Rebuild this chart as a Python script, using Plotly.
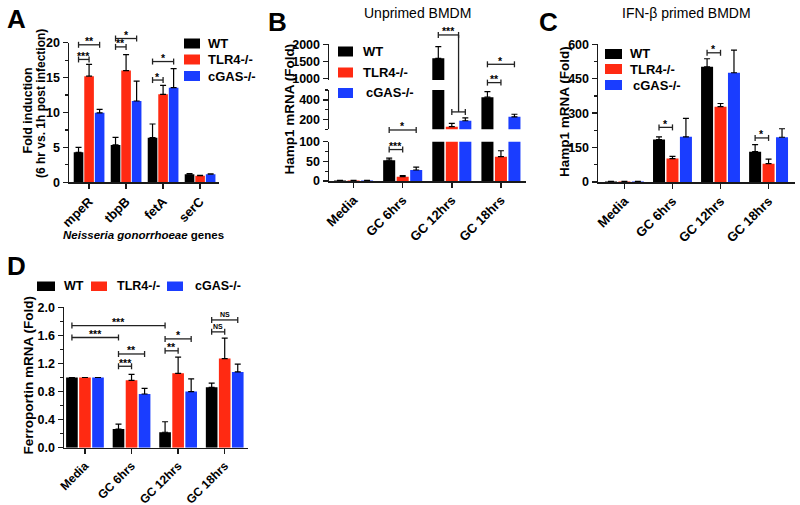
import plotly.graph_objects as go

W, H = 800, 505
FONT = "Liberation Sans, Arial, Helvetica, sans-serif"
BLACK, RED, BLUE = "#000000", "#FF2A12", "#1A3DFF"
COLORS = [BLACK, RED, BLUE]
SERIES = ["WT", "TLR4-/-", "cGAS-/-"]
AXC = "#1a1a1a"

# ---------------- data ----------------
genes = ["mpeR", "tbpB", "fetA", "serC"]
a_wt = [4.3, 5.35, 6.4, 1.15]
a_wt_err = [0.7, 1.1, 1.95, 0.1]
a_tlr4 = [15.2, 16.0, 12.6, 0.95]
a_tlr4_err = [1.7, 2.3, 1.3, 0.05]
a_cgas = [9.95, 11.65, 13.55, 1.15]
a_cgas_err = [0.5, 2.85, 2.75, 0.05]

conditions = ["Media", "GC 6hrs", "GC 12hrs", "GC 18hrs"]
b_wt = [1.5, 53, 1588, 427]
b_wt_err = [0.3, 5, 343, 56]
b_tlr4 = [1.5, 11, 127, 62]
b_tlr4_err = [0.3, 2.5, 33, 15]
b_cgas = [1.5, 28, 187, 227]
b_cgas_err = [0.3, 7.5, 30, 26]

c_wt = [2, 185, 502, 132]
c_wt_err = [0.5, 12, 35, 31]
c_tlr4 = [2, 102, 328, 80]
c_tlr4_err = [0.5, 10, 14, 20]
c_cgas = [2, 197, 476, 195]
c_cgas_err = [0.5, 80, 99, 37]

d_wt = [1.0, 0.266, 0.22, 0.86]
d_wt_err = [None, 0.07, 0.15, 0.06]
d_tlr4 = [1.0, 0.96, 1.06, 1.27]
d_tlr4_err = [None, 0.085, 0.23, 0.29]
d_cgas = [1.0, 0.765, 0.80, 1.08]
d_cgas_err = [None, 0.08, 0.18, 0.11]

# ---------------- layout geometry (pixels) ----------------
P = {
    "A": dict(xa="x", ys=["y"], xdom=(69, 218.5), xr=(-0.54, 3.5),
              ydom=[(42.7, 182.3)], yr=[(0, 20)],
              off=[-0.4125, -0.1275, 0.1575], w=0.26),
    "B": dict(xa="x2", ys=["y2", "y3", "y4"], xdom=(329, 525.5), xr=(-0.5, 3.5),
              ydom=[(141.7, 181), (90, 129.3), (44.3, 80)],
              yr=[(0, 100), (100, 500), (950, 2000)],
              off=[-0.3975, -0.1225, 0.1525], w=0.245),
    "C": dict(xa="x3", ys=["y5"], xdom=(598, 795), xr=(-0.55, 3.55),
              ydom=[(44.3, 182)], yr=[(0, 600)],
              off=[-0.405, -0.125, 0.155], w=0.25),
    "D": dict(xa="x4", ys=["y6"], xdom=(64, 248), xr=(-0.45, 3.5),
              ydom=[(307.3, 447.7)], yr=[(0, 2.0)],
              off=[-0.405, -0.125, 0.155], w=0.25),
}


def PX(px):
    return px / W


def PY(py):
    return 1 - py / H


def xpix(p, v):
    g = P[p]
    x0, x1 = g["xdom"]
    r0, r1 = g["xr"]
    return x0 + (v - r0) / (r1 - r0) * (x1 - x0)


def ypix(p, seg, v):
    g = P[p]
    top, bot = g["ydom"][seg]
    r0, r1 = g["yr"][seg]
    return bot - (v - r0) / (r1 - r0) * (bot - top)


def center(p, grp, s):
    g = P[p]
    return grp + g["off"][s] + g["w"] / 2


fig = go.Figure()


def add_bars(p, means, errs):
    g = P[p]
    for ya in g["ys"]:
        for i in range(3):
            fig.add_trace(go.Bar(
                x=[0, 1, 2, 3], y=means[i], width=g["w"], offset=g["off"][i],
                marker=dict(color=COLORS[i], line=dict(width=0)),
                error_y=dict(type="data", symmetric=False, array=errs[i],
                             arrayminus=[0, 0, 0, 0], color="black",
                             thickness=1.2, width=3),
                name=SERIES[i], showlegend=False, xaxis=g["xa"], yaxis=ya,
                hoverinfo="skip",
            ))


add_bars("A", [a_wt, a_tlr4, a_cgas], [a_wt_err, a_tlr4_err, a_cgas_err])
add_bars("B", [b_wt, b_tlr4, b_cgas], [b_wt_err, b_tlr4_err, b_cgas_err])
add_bars("C", [c_wt, c_tlr4, c_cgas], [c_wt_err, c_tlr4_err, c_cgas_err])
add_bars("D", [d_wt, d_tlr4, d_cgas], [d_wt_err, d_tlr4_err, d_cgas_err])

tickfont = dict(family=FONT, size=12.5, color="black", weight=700)


def yax(p, seg, anchor, tickvals, minor=None):
    g = P[p]
    top, bot = g["ydom"][seg]
    d = dict(domain=[PY(bot), PY(top)], range=list(g["yr"][seg]), anchor=anchor,
             showline=True, linecolor=AXC, linewidth=1.5, ticks="outside",
             ticklen=5, tickwidth=1.5, tickcolor=AXC, showgrid=False,
             zeroline=False, tickvals=tickvals, tickfont=tickfont, fixedrange=True,
             automargin=False)
    if minor is not None:
        d["minor"] = dict(dtick=minor, ticklen=3, tickwidth=1.2, tickcolor=AXC,
                          ticks="outside", showgrid=False)
    return d


def xax(p, anchor, labels, size=13):
    g = P[p]
    return dict(domain=[PX(g["xdom"][0]), PX(g["xdom"][1])], range=list(g["xr"]),
                anchor=anchor, showline=True, linecolor=AXC, linewidth=1.5,
                ticks="outside", ticklen=5, tickwidth=1.5, tickcolor=AXC,
                tickvals=[0, 1, 2, 3], ticktext=labels, tickangle=-45,
                tickfont=dict(family=FONT, size=size, color="black", weight=700),
                showgrid=False, zeroline=False, fixedrange=True,
                automargin=False)


fig.update_layout(
    width=W, height=H, margin=dict(l=0, r=0, t=0, b=0, autoexpand=False),
    paper_bgcolor="white", plot_bgcolor="white", showlegend=False,
    font=dict(family=FONT, color="black"),
    xaxis=xax("A", "y", genes),
    xaxis2=xax("B", "y2", conditions),
    xaxis3=xax("C", "y5", conditions),
    xaxis4=xax("D", "y6", conditions, size=12),
    yaxis=yax("A", 0, "x", [0, 5, 10, 15, 20], minor=2.5),
    yaxis2=yax("B", 0, "x2", [0, 50, 100], minor=25),
    yaxis3=yax("B", 1, "x2", [200, 400], minor=100),
    yaxis4=yax("B", 2, "x2", [1000, 1500, 2000]),
    yaxis5=yax("C", 0, "x3", [0, 150, 300, 450, 600], minor=75),
    yaxis6=yax("D", 0, "x4", [0, 0.4, 0.8, 1.2, 1.6, 2.0], minor=0.2),
)
fig.update_layout(yaxis6=dict(tickformat=".1f"))

shapes = []
annots = []


def line(x0, y0, x1, y1, w=1.3):
    shapes.append(dict(type="line", xref="paper", yref="paper",
                       x0=PX(x0), y0=PY(y0), x1=PX(x1), y1=PY(y1),
                       line=dict(color="#222222", width=w)))


def text(x, y, s, size=13, weight=700, xanchor="center", yanchor="middle",
         angle=0, style="normal"):
    annots.append(dict(x=PX(x), y=PY(y), xref="paper", yref="paper", text=s,
                       showarrow=False, xanchor=xanchor, yanchor=yanchor,
                       textangle=angle,
                       font=dict(family=FONT, size=size, color="black",
                                 weight=weight, style=style)))


TK = 3


def bracket(p, seg, g1, s1, g2, s2, val, label, xr_override=None):
    xa = xpix(p, center(p, g1, s1))
    xb = xpix(p, center(p, g2, s2)) if xr_override is None else xr_override
    yy = ypix(p, seg, val)
    line(xa, yy, xb, yy)
    line(xa, yy - TK, xa, yy + TK)
    line(xb, yy - TK, xb, yy + TK)
    if label:
        if label == "NS":
            text((xa + xb) / 2, yy + 0.5, label, size=7, yanchor="bottom")
        else:
            text((xa + xb) / 2, yy + 4.5, label, size=10.5, yanchor="bottom")


# Panel A brackets
bracket("A", 0, 0, 0, 0, 1, 17.6, "***")
bracket("A", 0, 0, 0, 0, 2, 19.7, "**")
bracket("A", 0, 1, 0, 1, 1, 19.4, "**")
bracket("A", 0, 1, 0, 1, 2, 20.6, "*")
bracket("A", 0, 2, 0, 2, 1, 14.65, "*")
bracket("A", 0, 2, 0, 2, 2, 17.3, "*")

# Panel B brackets
bracket("B", 0, 1, 0, 1, 1, 80, "***")
bracket("B", 1, 1, 0, 1, 2, 93, "*")
bracket("B", 2, 3, 0, 3, 1, 873, "**")
bracket("B", 2, 3, 0, 3, 2, 1412, "*")
bracket("B", 1, 2, 1, 2, 2, 277, "")
xmid = (xpix("B", center("B", 2, 1)) + xpix("B", center("B", 2, 2))) / 2
bracket("B", 2, 2, 0, 2, 0, 2275, "***", xr_override=xmid)
line(xmid, ypix("B", 2, 2275), xmid, ypix("B", 1, 277))

# Panel C brackets
bracket("C", 0, 1, 0, 1, 1, 238, "*")
bracket("C", 0, 2, 0, 2, 1, 563, "*")
bracket("C", 0, 3, 0, 3, 1, 192, "*")

# Panel D brackets
bracket("D", 0, 0, 0, 2, 0, 1.74, "***")
bracket("D", 0, 0, 0, 1, 0, 1.57, "***")
bracket("D", 0, 1, 0, 1, 1, 1.16, "***")
bracket("D", 0, 1, 0, 1, 2, 1.335, "**")
bracket("D", 0, 2, 0, 2, 1, 1.38, "**")
bracket("D", 0, 2, 0, 2, 2, 1.55, "*")
bracket("D", 0, 3, 0, 3, 1, 1.65, "NS")
bracket("D", 0, 3, 0, 3, 2, 1.82, "NS")


# Legends (vertical for A, B, C)
def vlegend(bx0, bx1, ycs, txs, size=13):
    for i, yc in enumerate(ycs):
        shapes.append(dict(type="rect", xref="paper", yref="paper",
                           x0=PX(bx0), x1=PX(bx1), y0=PY(yc + 5), y1=PY(yc - 5),
                           fillcolor=COLORS[i], line=dict(width=0)))
        text(txs[i], yc, SERIES[i], size=size, xanchor="left")


vlegend(184, 200, [43.5, 59.5, 76], [206, 206, 206])
vlegend(338, 353, [51.5, 72.5, 93], [361, 361, 364])
vlegend(605, 622, [54, 69, 85], [628, 628, 631])

# Horizontal legend D
for i, (bx0, bx1, tx) in enumerate([(37, 55, 62), (91, 107, 115), (167, 183, 193)]):
    shapes.append(dict(type="rect", xref="paper", yref="paper",
                       x0=PX(bx0), x1=PX(bx1), y0=PY(291), y1=PY(281.5),
                       fillcolor=COLORS[i], line=dict(width=0)))
    text(tx, 286, SERIES[i], size=12.5, xanchor="left")

# Axis titles
text(27.5, 111, "Fold induction", size=12.5, angle=-90)
text(41, 104, "(6 hr vs. 1h post infection)", size=12, angle=-90)
text(143, 235, "<i>Neisseria gonorrhoeae</i> genes", size=11.5)
text(289.5, 109, "Hamp1 mRNA (Fold)", size=13.5, angle=-90)
text(565, 112, "Hamp1 mRNA (Fold)", size=13.5, angle=-90)
text(27.5, 376, "Ferroportin mRNA (Fold)", size=13.5, angle=-90)

# Panel titles
text(417.5, 13, "Unprimed BMDM", size=14, weight=400)
text(686, 13, "IFN-β primed BMDM", size=14, weight=400)

# Panel letters
text(16, 19, "A", size=26)
text(277, 22, "B", size=26)
text(548, 22, "C", size=26)
text(16, 266, "D", size=26)

fig.update_layout(shapes=shapes, annotations=annots)
fig.write_html(
    "out.html",
    config={"displayModeBar": False, "staticPlot": True},
    post_script="document.body.style.margin='0';document.body.style.padding='0';"
                "document.documentElement.style.overflow='hidden';",
)
